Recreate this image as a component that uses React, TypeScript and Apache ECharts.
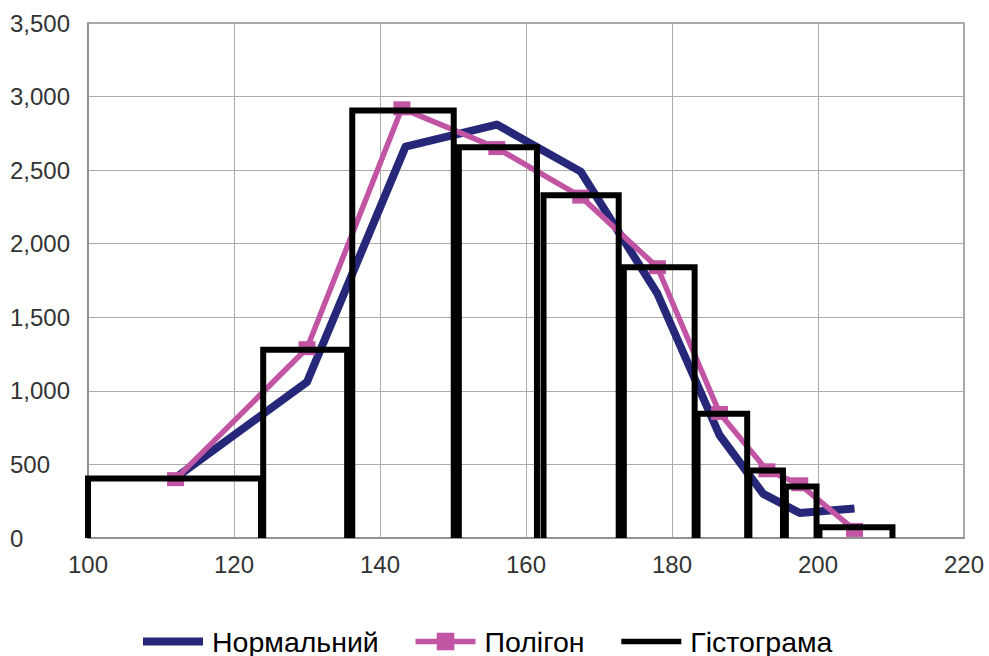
import React, { useEffect, useRef } from "react";
import * as echarts from "echarts";

// Data
const normalX = [112, 130, 143.5, 156, 167.5, 178, 186.5, 192.5, 197.5, 205];
const normalY = [410, 1060, 2660, 2810, 2490, 1660, 700, 300, 170, 200];

const polygonX = [112, 130, 143, 156, 167.5, 178, 186.5, 193, 197.5, 205];
const polygonY = [400, 1290, 2920, 2650, 2320, 1840, 850, 460, 365, 55];

const histLeft = [100, 124, 136.2, 150.8, 162.4, 173.4, 183.5, 190.6, 195.6, 200.2];
const histRight = [123.7, 135.5, 150.1, 161.5, 172.7, 183.1, 190.3, 195.2, 199.8, 210.2];
const histHeight = [405, 1280, 2905, 2655, 2330, 1840, 845, 459, 350, 73];

const seriesNames = ["Нормальний", "Полігон", "Гістограма"];
const xTicks = { min: 100, max: 220, interval: 20 };
const yTicks = { min: 0, max: 3500, interval: 500 };

const FONT = "'Liberation Sans', Arial, sans-serif";
const NAVY = "#27277a";
const PINK = "#c155a3";

export default function App() {
  const ref = useRef<HTMLDivElement>(null);

  useEffect(() => {
    document.body.style.margin = "0";
    if (!ref.current) return;
    const chart = echarts.init(ref.current, undefined, { renderer: "svg" });

    const histSeries = histLeft.map((l, i) => ({
      type: "line",
      name: seriesNames[2],
      data: [
        [l, 0],
        [l, histHeight[i]],
        [histRight[i], histHeight[i]],
        [histRight[i], 0],
      ],
      symbol: "none",
      clip: false,
      z: 4,
      lineStyle: { color: "#000000", width: 6, join: "miter", cap: "butt" },
      itemStyle: { color: "#000000" },
    }));

    chart.setOption({
      animation: false,
      backgroundColor: "#ffffff",
      textStyle: { fontFamily: FONT },
      grid: { left: 88, right: 25, top: 23, bottom: 118, show: true, borderColor: "#8a8a8a", borderWidth: 1.5 },
      legend: {
        data: [
          { name: seriesNames[0], itemStyle: { opacity: 0 }, lineStyle: { width: 8, color: NAVY } },
          { name: seriesNames[1], lineStyle: { width: 5.5, color: PINK } },
          { name: seriesNames[2], itemStyle: { opacity: 0 }, lineStyle: { width: 5.5, color: "#000" } },
        ],
        left: 134,
        top: 622,
        itemWidth: 60,
        itemHeight: 22,
        itemGap: 34,
        textStyle: { fontSize: 28.5, color: "#000", fontFamily: FONT, padding: [0, 0, 0, 4] },
      },
      xAxis: {
        type: "value",
        min: xTicks.min,
        max: xTicks.max,
        interval: xTicks.interval,
        axisLine: { show: true, lineStyle: { color: "#8a8a8a", width: 1.5 } },
        axisTick: { show: false },
        axisLabel: { fontSize: 24, color: "#333333", margin: 14, fontFamily: FONT },
        splitLine: { show: true, lineStyle: { color: "#ababab", width: 1 } },
      },
      yAxis: {
        type: "value",
        min: yTicks.min,
        max: yTicks.max,
        interval: yTicks.interval,
        axisLine: { show: true, lineStyle: { color: "#8a8a8a", width: 1.5 } },
        axisTick: { show: false },
        axisLabel: {
          fontSize: 24,
          color: "#333333",
          align: "left",
          margin: 78,
          fontFamily: FONT,
          formatter: (v: number) => v.toLocaleString("en-US"),
        },
        splitLine: { show: true, lineStyle: { color: "#ababab", width: 1 } },
      },
      series: [
        {
          type: "line",
          name: seriesNames[0],
          data: normalX.map((x, i) => [x, normalY[i]]),
          symbol: "none",
          z: 2,
          lineStyle: { color: NAVY, width: 8, join: "round" },
          itemStyle: { color: NAVY },
        },
        {
          type: "line",
          name: seriesNames[1],
          data: polygonX.map((x, i) => [x, polygonY[i]]),
          symbol: "rect",
          symbolSize: [17, 14],
          z: 3,
          lineStyle: { color: PINK, width: 5.5, join: "round" },
          itemStyle: { color: PINK },
        },
        ...histSeries,
      ],
    });

    return () => chart.dispose();
  }, []);

  return <div ref={ref} style={{ width: 989, height: 656 }} />;
}
